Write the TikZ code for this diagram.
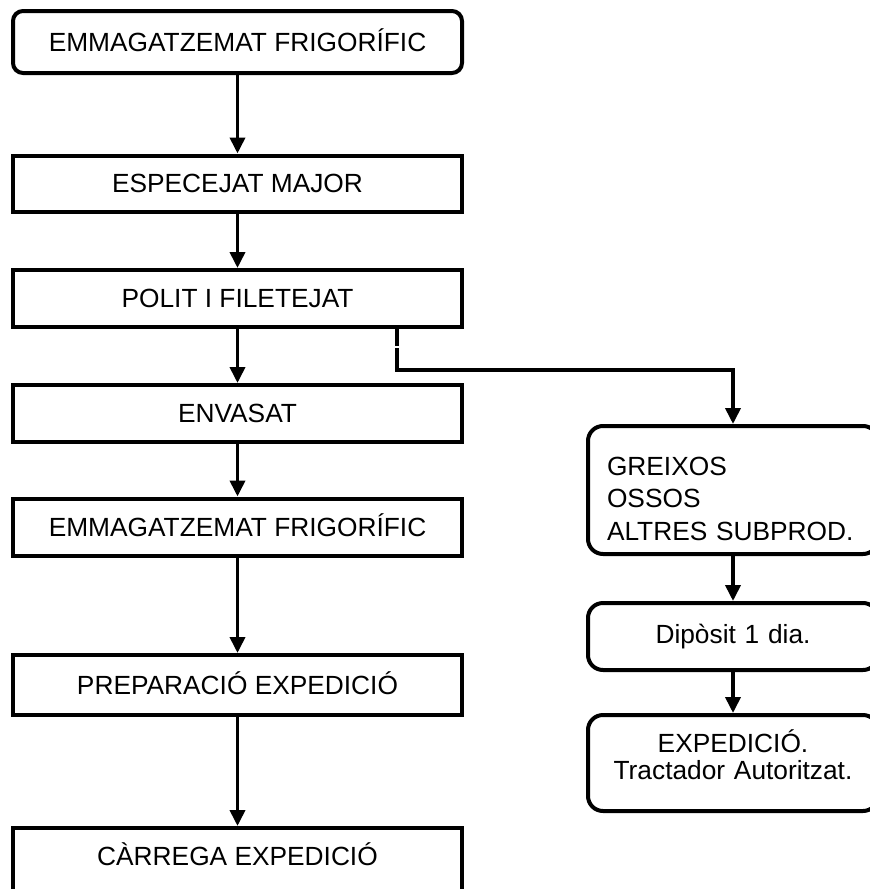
\documentclass[tikz,border=0pt]{standalone}
\usepackage{fontspec}
\setmainfont{Liberation Sans}
\usetikzlibrary{arrows.meta,calc}
\begin{document}
\begin{tikzpicture}[x=1pt,y=-1pt,
  every node/.style={font=\fontsize{26.3}{32.5}\selectfont},
  box/.style={draw, line width=4pt, minimum width=449pt, inner sep=0pt,
    text height=18.6pt, text depth=0pt},
  rbox/.style={box, rounded corners=10pt},
  sidebox/.style={draw, line width=4pt, rounded corners=15pt,
    minimum width=290pt, inner sep=0pt},
  flow/.style={line width=3.7pt, -{Triangle[length=16pt,width=15pt]}}
]
\useasboundingbox (0,0) rectangle (870,889);
\clip (0,0) rectangle (870,889);

% left column
\node[rbox, minimum height=62pt] (c1) at (237.5,42) {EMMAGATZEMAT FRIGORÍFIC};
\node[box, minimum height=56pt] (c2) at (237.5,183.5) {ESPECEJAT MAJOR};
\node[box, minimum height=57pt] (c3) at (237.5,298.5) {POLIT I FILETEJAT};
\node[box, minimum height=57pt] (c4) at (237.5,413.5) {ENVASAT};
\node[box, minimum height=57pt] (c5) at (237.5,527) {EMMAGATZEMAT FRIGORÍFIC};
\node[box, minimum height=60pt] (c6) at (237.5,685) {PREPARACIÓ EXPEDICIÓ};
\node[box, text height=37pt, text depth=60pt] (c7) at (237.5,876.5) {CÀRREGA EXPEDICIÓ};

% right column
\node[sidebox, text width=252pt, inner xsep=19pt, align=left,
  text height=49pt, text depth=79pt] (g) at (733,490)
  {GREIXOS\\OSSOS\\ALTRES SUBPROD.};
\node[sidebox, text width=290pt, align=center, minimum height=67pt] (d) at (733,636.5)
  {Dipòsit 1 dia.};
\node[sidebox, text width=290pt, align=center,
  text height=37pt, text depth=59pt] (e) at (733,763)
  {EXPEDICIÓ.\\[-5.5pt]Tractador Autoritzat.};

% connectors
\draw[flow] (c1) -- (c2);
\draw[flow] (c2) -- (c3);
\draw[flow] (c3) -- (c4);
\draw[flow] (c4) -- (c5);
\draw[flow] (c5) -- (c6);
\draw[flow] (c6) -- (c7);
\coordinate (bs) at (397,0);
\draw[flow, dash pattern=on 17pt off 2pt on 2000pt]
  (c3.south -| bs) -- ++(0,41) -| (g.north);
\draw[flow] (g) -- (d);
\draw[flow] (d) -- (e);
\end{tikzpicture}
\end{document}
